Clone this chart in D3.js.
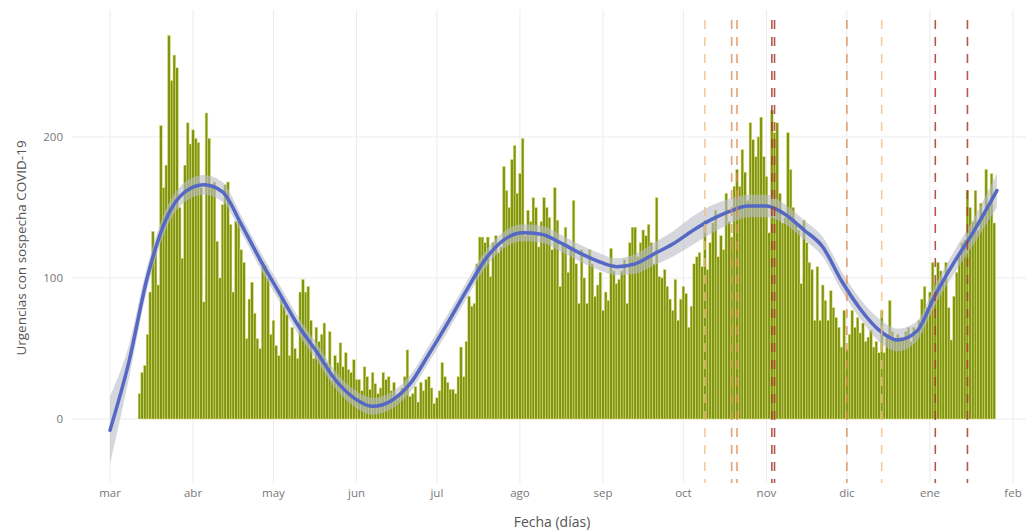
<!DOCTYPE html>
<html>
<head>
<meta charset="utf-8">
<script src="https://cdn.jsdelivr.net/npm/d3@7"></script>
<style>
  html, body { margin: 0; padding: 0; background: #fff; }
  svg { display: block; font-family: "Open Sans", "DejaVu Sans", sans-serif; }
</style>
</head>
<body>
<svg id="chart" width="1029" height="532"></svg>
<script>
// ---------------- DATA ----------------
const barStartDate = "2020-03-12"; // first daily bar
const urgencias = [
  18,33,38,60,90,133,120,95,208,164,
  180,272,240,258,249,150,114,180,210,195,
  205,199,196,164,83,217,199,166,168,126,
  100,152,166,168,138,90,140,140,120,111,
  57,85,97,75,57,50,111,109,100,60,
  70,52,45,86,80,74,45,65,50,43,
  90,99,90,94,70,43,65,55,60,68,
  40,62,28,45,40,54,37,47,35,33,
  42,28,28,20,37,30,21,33,25,18,
  22,33,28,30,20,26,14,16,22,30,
  49,16,18,23,12,26,20,28,30,22,
  11,15,20,40,30,26,21,21,18,30,
  51,30,55,87,80,82,110,129,129,125,
  129,101,125,130,118,122,179,162,150,184,
  194,160,174,199,130,148,140,157,150,122,
  140,157,150,143,120,164,141,94,125,136,
  104,120,155,110,82,120,100,82,120,110,
  87,95,104,77,90,84,121,105,96,99,
  105,113,82,125,136,136,115,125,134,130,
  138,125,110,157,101,100,106,94,85,77,
  99,70,85,94,89,65,80,110,115,118,
  108,141,106,125,139,148,115,130,120,160,
  140,129,165,177,165,191,175,155,210,198,
  186,200,214,186,172,132,219,203,210,160,
  139,143,203,177,150,139,134,96,141,125,
  111,106,70,108,70,95,84,70,91,79,
  72,65,51,77,49,60,77,65,72,61,
  68,55,58,63,51,55,47,77,47,60,
  84,62,56,60,58,58,62,65,55,65,
  60,70,85,94,79,90,111,96,111,105,
  99,111,79,56,87,104,115,125,127,162,
  150,140,162,134,153,145,177,150,174,139
];

// loess smooth with standard-error half width
const smoothDates = [
  "2020-03-01","2020-03-08","2020-03-15","2020-03-22","2020-03-29","2020-04-05","2020-04-12",
  "2020-04-19","2020-04-26","2020-05-03","2020-05-10","2020-05-17","2020-05-24","2020-05-31",
  "2020-06-07","2020-06-14","2020-06-21","2020-06-28","2020-07-05","2020-07-12","2020-07-19",
  "2020-07-26","2020-08-02","2020-08-09","2020-08-16","2020-08-23","2020-08-30","2020-09-06",
  "2020-09-13","2020-09-20","2020-09-27","2020-10-04","2020-10-11","2020-10-18","2020-10-25",
  "2020-11-01","2020-11-08","2020-11-15","2020-11-22","2020-11-29","2020-12-06","2020-12-13",
  "2020-12-20","2020-12-27","2021-01-03","2021-01-10","2021-01-17","2021-01-26"
];
const smoothValues = [
  -8,40,101,142,161,166,161,
  138,113,90,67,48,28,15,
  9,13,25,46,68,91,113,
  127,132,131,125,118,112,108,
  110,117,124,133,141,147,151,
  151,145,134,122,98,78,63,
  56,62,88,111,132,162
];
const smoothSE = [
  24,12,8,7,7,7,7,
  6,6,6,6,6,6,6,
  6,6,6,6,6,6,6,
  6,6,6,6,6,6,6,
  7,8,9,10,10,9,8,
  8,7,7,7,7,7,8,
  8,7,7,8,9,12
];

// vertical event lines
const eventDates = ["2020-10-09","2020-10-19","2020-10-21","2020-11-03","2020-11-04",
                    "2020-12-01","2020-12-14","2021-01-03","2021-01-15"];
const eventLevel = [1,2,2,3,3,2,1,3,3];

const monthTicks = ["2020-03-01","2020-04-01","2020-05-01","2020-06-01","2020-07-01","2020-08-01",
                    "2020-09-01","2020-10-01","2020-11-01","2020-12-01","2021-01-01","2021-02-01"];
const monthLabels = ["mar","abr","may","jun","jul","ago","sep","oct","nov","dic","ene","feb"];
const yTicks = [0,100,200];
const xTitle = "Fecha (días)";
const yTitle = "Urgencias con sospecha COVID-19";

// ---------------- CHART ----------------
const parse = d3.utcParse("%Y-%m-%d");
const svg = d3.select("#chart");
const W = 1029, H = 532;
const plot = {left: 72, right: 1026, top: 10, bottom: 483};

const x = d3.scaleUtc()
  .domain([parse("2020-03-01"), parse("2021-02-01")])
  .range([110, 1013]);
const y = d3.scaleLinear()
  .domain([-45.4, 290])
  .range([483, 10]);

const dayW = x(parse("2020-03-02")) - x(parse("2020-03-01"));

const start = parse(barStartDate);
const bars = urgencias.map((v, i) => ({date: d3.utcDay.offset(start, i), value: v}));
const smooth = smoothDates.map((d, i) => ({date: parse(d), value: smoothValues[i], se: smoothSE[i]}));

// grid
const grid = svg.append("g");
grid.selectAll("line.v").data(monthTicks).join("line")
  .attr("x1", d => x(parse(d))).attr("x2", d => x(parse(d)))
  .attr("y1", plot.top).attr("y2", plot.bottom)
  .attr("stroke", "#ececec").attr("stroke-width", 1);
grid.selectAll("line.h").data(yTicks).join("line")
  .attr("x1", plot.left).attr("x2", plot.right)
  .attr("y1", d => y(d)).attr("y2", d => y(d))
  .attr("stroke", "#ececec").attr("stroke-width", 1);

// bars
svg.append("g").selectAll("rect").data(bars).join("rect")
  .attr("x", d => x(d.date) - dayW / 2)
  .attr("width", dayW)
  .attr("y", d => y(d.value))
  .attr("height", d => y(0) - y(d.value))
  .attr("fill", "#7f9412")
  .attr("stroke", "#dfe37a")
  .attr("stroke-width", 0.5);

// confidence band
const area = d3.area()
  .x(d => x(d.date))
  .y0(d => y(d.value - d.se))
  .y1(d => y(d.value + d.se))
  .curve(d3.curveMonotoneX);
svg.append("path").datum(smooth)
  .attr("d", area)
  .attr("fill", "#b9bdc6").attr("fill-opacity", 0.6);

// smooth line
const line = d3.line().x(d => x(d.date)).y(d => y(d.value)).curve(d3.curveMonotoneX);
svg.append("path").datum(smooth)
  .attr("d", line)
  .attr("fill", "none").attr("stroke", "#5568c4").attr("stroke-width", 3.5)
  .attr("stroke-linecap", "round");

// event lines
const levelColor = d3.scaleOrdinal().domain([1,2,3]).range(["#f2bd86", "#df8a55", "#a8392c"]);
const levelOpacity = d3.scaleOrdinal().domain([1,2,3]).range([0.8, 0.8, 0.85]);
svg.append("g").selectAll("line").data(eventDates.map((d, i) => ({date: parse(d), level: eventLevel[i]})))
  .join("line")
  .attr("x1", d => x(d.date)).attr("x2", d => x(d.date))
  .attr("y1", 20).attr("y2", plot.bottom)
  .attr("stroke", d => levelColor(d.level))
  .attr("stroke-opacity", d => levelOpacity(d.level))
  .attr("stroke-width", 1.6)
  .attr("stroke-dasharray", "9,8");

// x tick labels
svg.append("g").selectAll("text").data(monthTicks).join("text")
  .attr("x", d => x(parse(d)))
  .attr("y", 497)
  .attr("text-anchor", "middle")
  .attr("font-size", 11.5)
  .attr("fill", "#777")
  .text((d, i) => monthLabels[i]);

// y tick labels
svg.append("g").selectAll("text").data(yTicks).join("text")
  .attr("x", 63)
  .attr("y", d => y(d) + 4)
  .attr("text-anchor", "end")
  .attr("font-size", 11.5)
  .attr("fill", "#777")
  .text(d => d);

// axis titles
svg.append("text")
  .attr("x", 552).attr("y", 527)
  .attr("text-anchor", "middle")
  .attr("font-size", 14)
  .attr("fill", "#555")
  .text(xTitle);
svg.append("text")
  .attr("transform", "translate(26,248) rotate(-90)")
  .attr("text-anchor", "middle")
  .attr("font-size", 13.5)
  .attr("fill", "#555")
  .text(yTitle);
</script>
</body>
</html>
